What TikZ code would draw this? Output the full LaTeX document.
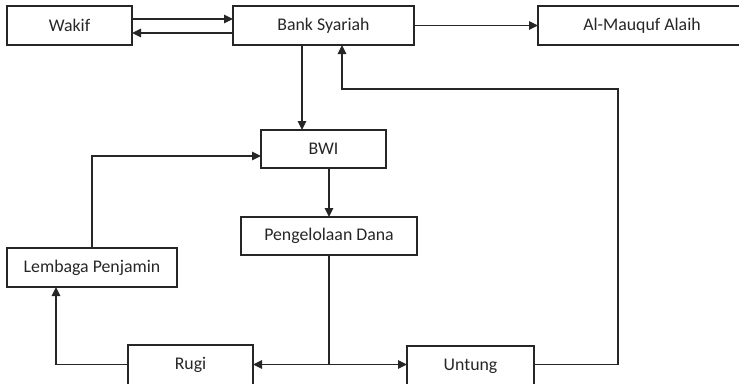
\documentclass[tikz,border=0pt]{standalone}
\usepackage{fontspec}
\setmainfont{Carlito}
\usetikzlibrary{arrows.meta}
\definecolor{ink}{HTML}{262626}
\tikzset{
  box/.style={draw=ink, line width=1.3pt, inner sep=0pt, outer sep=0pt, text=ink,
    font=\fontsize{17.8}{20}\selectfont},
  arr/.style={draw=ink, line width=1.3pt, -{Triangle[length=9pt,width=8.5pt]}},
  ln/.style={draw=ink, line width=1.3pt}
}
\begin{document}
\begin{tikzpicture}[x=1pt,y=-1pt]
\useasboundingbox (0,0) rectangle (739,383);
\clip (0,0) rectangle (739,383);
\node[box, minimum width=125pt, minimum height=39pt] (wakif) at (69.5,25.5) {Wakif};
\node[box, minimum width=181pt, minimum height=39pt] (bank) at (323.5,25.5) {Bank Syariah};
\node[box, minimum width=208pt, minimum height=39pt] (mauquf) at (642,25.5) {Al-Mauquf Alaih};
\node[box, minimum width=125pt, minimum height=38pt] (bwi) at (323.5,149) {BWI};
\node[box, minimum width=176pt, minimum height=38pt] (peng) at (329,236) {Pengelolaan Dana};
\node[box, minimum width=170pt, minimum height=39pt] (lembaga) at (92,267.5) {Lembaga Penjamin};
\node[box, minimum width=125pt, minimum height=40pt] (rugi) at (190.5,365) {Rugi};
\node[box, minimum width=127pt, minimum height=40pt] (untung) at (470.5,366) {Untung};
\coordinate (split) at (329,364.5);
\coordinate (corner) at (618,89);
\draw[arr] ([yshift=6.5pt]wakif.east) -- ([yshift=6.5pt]bank.west);
\draw[arr] ([yshift=-7.5pt]bank.west) -- ([yshift=-7.5pt]wakif.east);
\draw[arr] (bank.east) -- (mauquf.west);
\draw[arr] ([xshift=-21.5pt]bank.south) -- ([xshift=-21.5pt]bwi.north);
\draw[arr] (bwi.south -| peng.north) -- (peng.north);
\draw[ln] (peng.south) -- (split);
\draw[arr] (split) -- (rugi.east |- split);
\draw[arr] (split) -- (untung.west |- split);
\draw[arr] (untung.east |- split) -| (corner) -| ([xshift=18.5pt]bank.south);
\draw[arr] (rugi.west |- split) -| ([xshift=-36pt]lembaga.south);
\draw[arr] (lembaga.north) |- ([yshift=-7pt]bwi.west);
\end{tikzpicture}
\end{document}
